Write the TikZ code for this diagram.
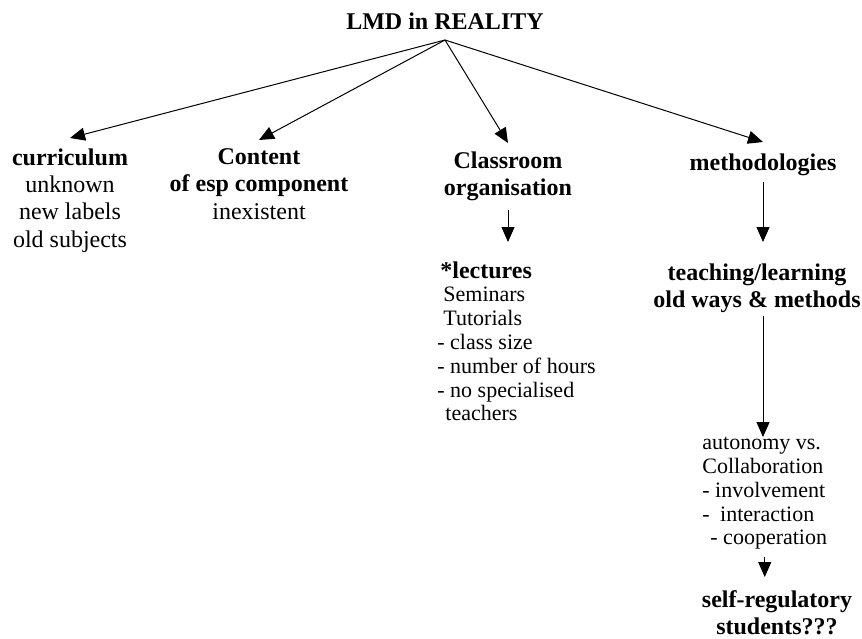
\documentclass[tikz,border=0pt]{standalone}
\usepackage{fontspec}
\setmainfont{Liberation Serif}
\usetikzlibrary{arrows.meta}
\begin{document}
\begin{tikzpicture}[x=0.5pt,y=-0.5pt,
  arr/.style={line width=0.5pt,-{Triangle[length=7.5pt,width=6.5pt]}},
  head/.style={font=\fontsize{12}{13.7}\selectfont, inner sep=0pt, align=center},
  list/.style={font=\fontsize{11}{11.9}\selectfont, inner sep=0pt, align=left}]
\useasboundingbox (0,0) rectangle (862,638);
\fill[white] (0,0) rectangle (862,638);

\node[head, anchor=base] (title) at (445,29) {\textbf{LMD in REALITY}};
\coordinate (apex) at (445,40);

\node[head, anchor=north] (curr) at (70,148) {\textbf{curriculum}\\unknown\\new labels\\old subjects};
\node[head, anchor=north] (cont) at (259,148) {\textbf{Content}\\\textbf{of esp component}\\inexistent};
\node[head, anchor=north] (clas) at (508,151) {\textbf{Classroom}\\\textbf{organisation}};
\node[head, anchor=north] (meth) at (763,153) {\textbf{methodologies}};

\node[list, anchor=north west] (lect) at (437,261) {\hspace{1.5pt}\textbf{\fontsize{12}{13.7}\selectfont *lectures}\\\hspace{3pt}Seminars\\\hspace{3pt}Tutorials\\- class size\\- number of hours\\- no specialised\\\hspace{4pt}teachers};

\node[head, anchor=north] (teach) at (757,263) {\textbf{teaching/learning}\\\textbf{old ways \& methods}};

\node[list, anchor=north west] (auto) at (702,437) {autonomy vs.\\Collaboration\\- involvement\\-\hspace{2.5pt} interaction\\\hspace{4pt}- cooperation};

\node[head, anchor=north] (self) at (777,590) {\textbf{self-regulatory}\\\textbf{students???}};

\draw[arr] (apex) -- ([yshift=5pt]curr.north);
\draw[arr] (apex) -- ([yshift=4pt]cont.north);
\draw[arr] (apex) -- ([yshift=4pt]clas.north);
\draw[arr] (apex) -- ([yshift=5.5pt]meth.north);

\draw[arr] ([yshift=-4.5pt]clas.south) -- ([yshift=9.5pt]clas.south |- lect.north);
\draw[arr] ([yshift=-3pt]meth.south) -- ([yshift=10.5pt]meth.south |- teach.north);
\draw[arr] ([yshift=-1.5pt]meth.south |- teach.south) -- (meth.south |- auto.north);
\draw[arr] ([yshift=-3.5pt]auto.south) -- ([yshift=6.5pt]auto.south |- self.north);
\end{tikzpicture}
\end{document}
